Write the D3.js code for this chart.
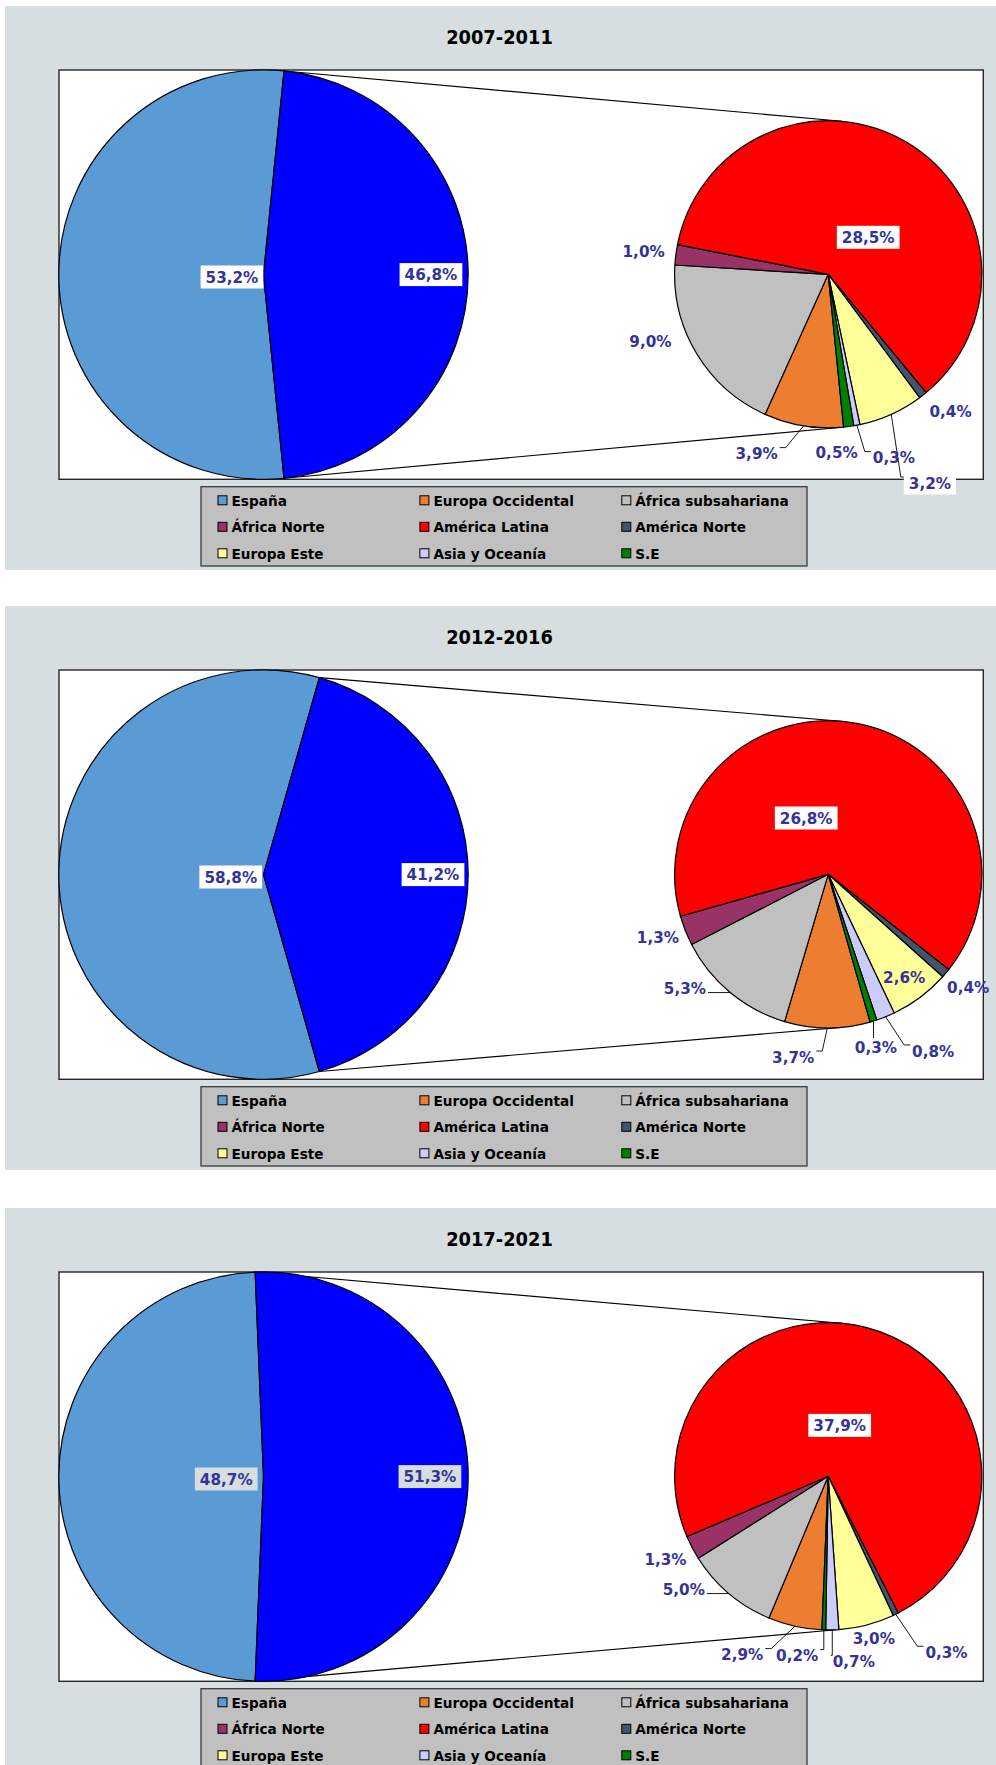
<!DOCTYPE html>
<html><head><meta charset="utf-8">
<script src="https://cdn.jsdelivr.net/npm/d3@7"></script>
<style>
body{margin:0;background:#fff;}
svg{display:block;}
text{font-family:"DejaVu Sans",Verdana,sans-serif;font-weight:bold;}
</style>
</head><body>
<svg id="c" width="996" height="1765"></svg>
<script>
// ---------- DATA ----------
const periods = ["2007-2011", "2012-2016", "2017-2021"];
const categories = ["España", "Europa Occidental", "África subsahariana", "África Norte",
  "América Latina", "América Norte", "Europa Este", "Asia y Oceanía", "S.E"];
const espana            = [53.2, 58.8, 48.7];
const extranjeros       = [46.8, 41.2, 51.3];
const europaOccidental  = [3.9, 3.7, 2.9];
const africaSubsahariana= [9.0, 5.3, 5.0];
const africaNorte       = [1.0, 1.3, 1.3];
const americaLatina     = [28.5, 26.8, 37.9];
const americaNorte      = [0.4, 0.4, 0.3];
const europaEste        = [3.2, 2.6, 3.0];
const asiaOceania       = [0.3, 0.8, 0.7];
const sinEspecificar    = [0.5, 0.3, 0.2];
const secondarySeries = [europaOccidental, africaSubsahariana, africaNorte, americaLatina,
  americaNorte, europaEste, asiaOceania, sinEspecificar];

// ---------- STYLE / LAYOUT ----------
const colors = ["#5b9bd5", "#ed7d31", "#c0c0c0", "#993366", "#ff0000", "#44546a", "#ffff99", "#ccccff", "#008000"];
const otherColor = "#0000ff";
const labelColor = "#333399";
const panelBg = "#d7dee0";
const panelOffsets = [0, 600, 1202];
const bigC = {x: 263.5, y: 274.6, r: 204.7};
const smallC = {x: 828.2, y: 274.3, r: 153.6};
const bigLabelRadius = [[0.154, 0.818], [0.16, 0.828], [0.182, 0.813]];
const bigLabelFill = ["#ffffff", "#ffffff", panelBg];
// secondary label offsets from the small pie centre
const secLabelOffsets = [
  [[-71.6,179.3],[-177.8,67],[-184.6,-23],[40,-37],[122.4,136.7],[101.7,208.7],[65.7,183.3],[8.4,177.7]],
  [[-35,182.7],[-143.3,114.3],[-170.3,63],[-22,-56.3],[140,113.3],[76,103.3],[105,176.7],[47.7,172.7]],
  [[-86,178.3],[-144.4,112.6],[-162.7,82.6],[11.5,-50.9],[118.3,176],[45.6,161.6],[25.6,185],[-31,179.3]]
];
const secLeaders = [
  [1,0,0,0,0,1,1,0],
  [1,1,0,0,0,0,1,1],
  [1,1,0,0,1,0,1,1]
];
const secBoxed = [
  [0,0,0,1,0,1,0,0],
  [0,0,0,1,0,0,0,0],
  [0,0,0,1,0,0,0,0]
];

const fmt = v => v.toFixed(1).replace('.', ',') + '%';
const svg = d3.select('#c');

function condense(t, factor) {
  const w = t.node().getComputedTextLength() * factor;
  t.attr('textLength', w).attr('lengthAdjust', 'spacingAndGlyphs');
  return w;
}

function addLabel(g, x, y, txt, boxFill) {
  const t = g.append('text').attr('x', x).attr('y', y + 5.8)
    .attr('text-anchor', 'middle').attr('font-size', 16).attr('fill', labelColor).text(txt);
  const w = condense(t, 0.95);
  if (boxFill) {
    g.insert('rect', () => t.node())
      .attr('x', x - w / 2 - 5).attr('y', y - 11.5).attr('width', w + 10).attr('height', 23)
      .attr('fill', boxFill);
  }
  return w;
}

function tangent(P, C, r, sign) {
  const dx = C[0] - P[0], dy = C[1] - P[1];
  const d = Math.hypot(dx, dy);
  const phi = Math.atan2(dy, dx), a = Math.asin(r / d), L = Math.sqrt(d * d - r * r);
  const ang = phi + sign * a;
  return [P[0] + L * Math.cos(ang), P[1] + L * Math.sin(ang)];
}

periods.forEach((period, pi) => {
  const off = panelOffsets[pi];
  const g = svg.append('g').attr('transform', `translate(0,${off})`);
  g.append('rect').attr('x', 5).attr('y', 6).attr('width', 991).attr('height', 564).attr('fill', panelBg);
  const title = g.append('text').attr('x', 499.5).attr('y', 44.3).attr('text-anchor', 'middle')
    .attr('font-size', 19.5).attr('fill', '#000').text(period);
  condense(title, 0.915);
  g.append('rect').attr('x', 59).attr('y', 70).attr('width', 924.3).attr('height', 409.3)
    .attr('fill', '#fff').attr('stroke', '#262626').attr('stroke-width', 1.4);

  const otherSpan = extranjeros[pi] / 100 * 2 * Math.PI;
  const start = Math.PI / 2 + otherSpan / 2;

  // connector lines
  const topP = d3.pointRadial(Math.PI / 2 - otherSpan / 2, bigC.r).map((v, i) => v + (i ? bigC.y : bigC.x));
  const botP = d3.pointRadial(Math.PI / 2 + otherSpan / 2, bigC.r).map((v, i) => v + (i ? bigC.y : bigC.x));
  const Cs = [smallC.x, smallC.y];
  const tTop = tangent(topP, Cs, smallC.r, -1);
  const tBot = tangent(botP, Cs, smallC.r, 1);
  g.append('line').attr('x1', topP[0]).attr('y1', topP[1]).attr('x2', tTop[0]).attr('y2', tTop[1])
    .attr('stroke', '#000').attr('stroke-width', 1.1);
  g.append('line').attr('x1', botP[0]).attr('y1', botP[1]).attr('x2', tBot[0]).attr('y2', tBot[1])
    .attr('stroke', '#000').attr('stroke-width', 1.1);

  // primary pie
  const bigData = [espana[pi], extranjeros[pi]];
  const bigArcs = d3.pie().sort(null).value(d => d).startAngle(start).endAngle(start + 2 * Math.PI)(bigData);
  const bigArc = d3.arc().innerRadius(0).outerRadius(bigC.r);
  const bg = g.append('g').attr('transform', `translate(${bigC.x},${bigC.y})`);
  bg.selectAll('path').data(bigArcs).join('path').attr('d', bigArc)
    .attr('fill', (d, i) => i === 0 ? colors[0] : otherColor)
    .attr('stroke', '#000').attr('stroke-width', 1.2).attr('stroke-linejoin', 'round');
  bigArcs.forEach((a, i) => {
    const mid = (a.startAngle + a.endAngle) / 2;
    const p = d3.pointRadial(mid, bigC.r * bigLabelRadius[pi][i]);
    addLabel(bg, p[0], p[1] + (i === 0 ? 2.4 : 0), fmt(a.data), bigLabelFill[pi]);
  });

  // secondary pie
  const secData = secondarySeries.map(s => s[pi]);
  const secArcs = d3.pie().sort(null).value(d => d).startAngle(start).endAngle(start + 2 * Math.PI)(secData);
  const secArc = d3.arc().innerRadius(0).outerRadius(smallC.r);
  const sg = g.append('g').attr('transform', `translate(${smallC.x},${smallC.y})`);
  sg.selectAll('path').data(secArcs).join('path').attr('d', secArc)
    .attr('fill', (d, i) => colors[i + 1])
    .attr('stroke', '#000').attr('stroke-width', 1.2).attr('stroke-linejoin', 'round');

  secArcs.forEach((a, i) => {
    const [lx, ly] = secLabelOffsets[pi][i];
    const w = addLabel(sg, lx, ly, fmt(a.data), secBoxed[pi][i] ? '#ffffff' : null);
    if (secLeaders[pi][i]) {
      const mid = (a.startAngle + a.endAngle) / 2;
      const s = d3.pointRadial(mid, smallC.r);
      const ey = Math.max(ly - 6, Math.min(ly + 5, s[1]));
      let pts;
      if (s[0] > lx + w / 2) {
        const ex = lx + w / 2 + 2;
        pts = [s, [ex + Math.min(6, s[0] - ex), ey], [ex, ey]];
      } else if (s[0] < lx - w / 2) {
        const ex = lx - w / 2 - 2;
        pts = [s, [ex - Math.min(6, ex - s[0]), ey], [ex, ey]];
      } else {
        pts = [s, [s[0], ly - 9]];
      }
      sg.insert('path', 'text').attr('d', d3.line()(pts)).attr('fill', 'none')
        .attr('stroke', '#000').attr('stroke-width', 0.9);
    }
  });

  // legend
  const lg = g.append('g').attr('transform', 'translate(201,486.7)');
  lg.append('rect').attr('width', 606).attr('height', 79.3).attr('fill', '#c0c0c0')
    .attr('stroke', '#3a3a3a').attr('stroke-width', 1.3);
  const colX = d3.scalePoint().domain([0, 1, 2]).range([17, 420.8]);
  const rowY = d3.scalePoint().domain([0, 1, 2]).range([13.6, 66.6]);
  categories.forEach((c, i) => {
    const x = colX(i % 3), y = rowY(Math.floor(i / 3));
    lg.append('rect').attr('x', x).attr('y', y - 4.5).attr('width', 9).attr('height', 9)
      .attr('fill', colors[i]).attr('stroke', '#000').attr('stroke-width', 1);
    const t = lg.append('text').attr('x', x + 13.5).attr('y', y + 5.3).attr('font-size', 14.6)
      .attr('fill', '#000').text(c);
    condense(t, 0.935);
  });
});
</script>
</body></html>
